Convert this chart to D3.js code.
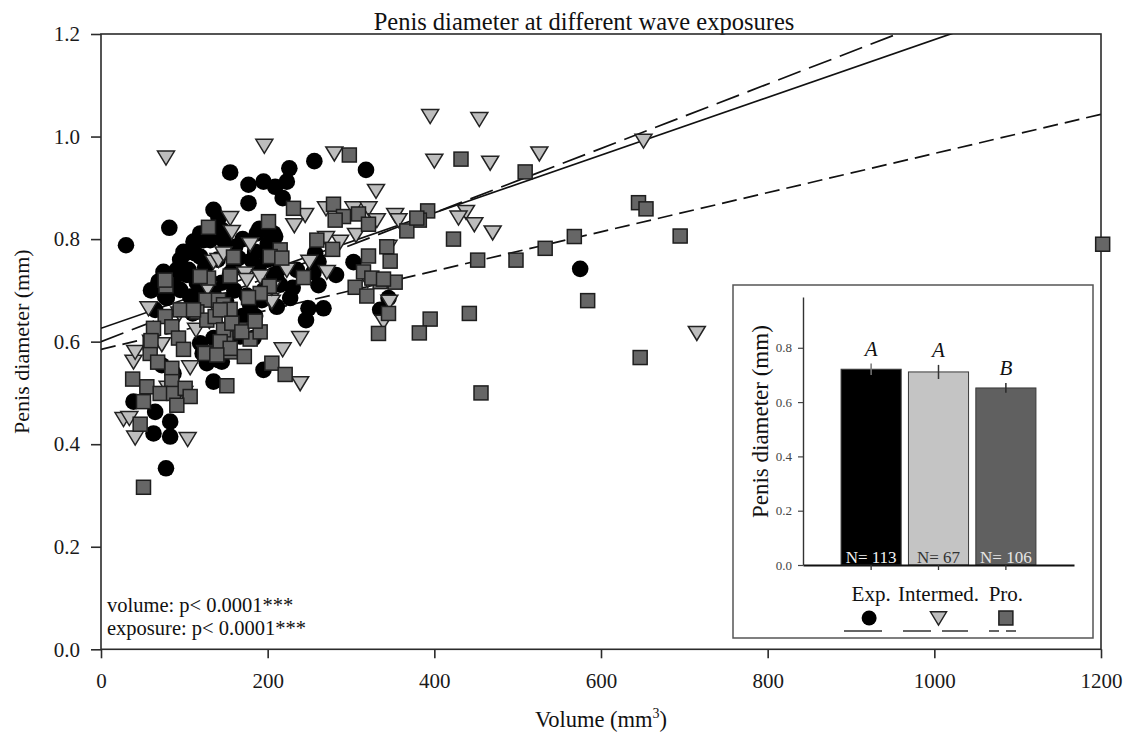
<!DOCTYPE html>
<html>
<head>
<meta charset="utf-8">
<script src="https://cdn.jsdelivr.net/npm/d3@7"></script>
<style>
  body { margin: 0; background: #fff; }
  svg { display: block; }
  text { font-family: "Liberation Serif", "Times New Roman", serif; }
</style>
</head>
<body>
<svg id="chart" width="1133" height="740"></svg>
<script>
// ---- Data: [volume (mm^3), penis diameter (mm)] per wave exposure ----
const expPoints = [
  [30,0.788],[82,0.822],[155,0.930],[256,0.952],[318,0.935],[226,0.938],[177,0.906],[195,0.912],
  [209,0.902],[223,0.912],[177,0.870],[218,0.880],[135,0.857],[141,0.841],[111,0.795],[123,0.798],
  [101,0.772],[119,0.766],[75,0.736],[91,0.740],[103,0.730],[69,0.717],[79,0.685],[161,0.785],
  [181,0.759],[199,0.818],[209,0.805],[155,0.733],[189,0.743],[211,0.720],[261,0.710],[282,0.730],
  [303,0.755],[227,0.685],[249,0.665],[267,0.665],[246,0.642],[211,0.668],[179,0.671],[135,0.694],
  [115,0.688],[135,0.805],[147,0.798],[190,0.820],[165,0.763],[159,0.743],[185,0.775],[215,0.743],
  [207,0.730],[215,0.711],[261,0.756],[193,0.681],[95,0.701],[335,0.662],[345,0.685],[119,0.597],
  [143,0.584],[127,0.558],[187,0.811],[207,0.811],[257,0.772],[167,0.610],[195,0.545],[119,0.811],
  [131,0.798],[145,0.818],[99,0.775],[113,0.772],[97,0.733],[77,0.688],[65,0.662],[119,0.697],
  [107,0.688],[159,0.639],[149,0.623],[122,0.577],[141,0.564],[183,0.607],[135,0.522],[39,0.483],
  [65,0.463],[73,0.554],[83,0.444],[63,0.421],[83,0.415],[78,0.353],[145,0.561],[87,0.538],
  [575,0.742],[135,0.607],[125,0.745],[140,0.760],[150,0.780],[170,0.800],[130,0.720],[160,0.700],
  [175,0.690],[200,0.760],[200,0.790],[255,0.735],[105,0.740],[115,0.715],[145,0.715],[95,0.760],
  [235,0.740],[195,0.700],[60,0.700],[88,0.710],[170,0.650],[185,0.650],[110,0.655],[230,0.705],
  [150,0.680]
];
const intermedPoints = [
  [78,0.959],[196,0.982],[280,0.967],[330,0.894],[155,0.841],[157,0.814],[245,0.847],[232,0.827],
  [179,0.790],[306,0.808],[303,0.860],[321,0.860],[331,0.837],[250,0.756],[271,0.736],[223,0.740],
  [173,0.733],[175,0.720],[191,0.727],[203,0.681],[57,0.665],[94,0.655],[114,0.623],[239,0.607],
  [218,0.585],[239,0.519],[107,0.550],[39,0.561],[41,0.580],[27,0.449],[34,0.451],[41,0.413],
  [104,0.410],[395,1.040],[454,1.034],[400,0.953],[467,0.949],[526,0.967],[651,0.992],[715,0.617],
  [353,0.847],[357,0.837],[438,0.853],[429,0.842],[448,0.829],[470,0.813],[346,0.678],[270,0.860],
  [287,0.795],[270,0.802],[205,0.678],[339,0.639],[73,0.595],[135,0.756],[141,0.759],[128,0.704],
  [147,0.772],[125,0.580],[140,0.660],[80,0.510],[150,0.610],[100,0.500],[60,0.600],[130,0.640],
  [320,0.720],[345,0.785],[205,0.705]
];
const proPoints = [
  [432,0.956],[509,0.931],[645,0.871],[654,0.859],[695,0.806],[568,0.805],[533,0.782],[498,0.759],
  [452,0.759],[423,0.800],[392,0.855],[382,0.837],[367,0.816],[343,0.785],[347,0.757],[353,0.716],
  [335,0.717],[345,0.655],[395,0.644],[382,0.617],[442,0.655],[584,0.680],[647,0.569],[333,0.616],
  [456,0.500],[1202,0.790],[279,0.868],[231,0.860],[201,0.834],[291,0.844],[281,0.837],[309,0.849],
  [321,0.829],[379,0.841],[259,0.798],[278,0.780],[215,0.779],[203,0.766],[321,0.767],[315,0.736],
  [325,0.724],[339,0.722],[305,0.706],[319,0.689],[243,0.725],[202,0.708],[191,0.694],[177,0.686],
  [179,0.605],[172,0.571],[205,0.558],[221,0.536],[298,0.964],[129,0.823],[159,0.765],[155,0.728],
  [129,0.724],[78,0.709],[126,0.681],[141,0.681],[147,0.672],[155,0.663],[115,0.658],[127,0.642],
  [137,0.649],[77,0.649],[85,0.629],[63,0.626],[93,0.607],[59,0.598],[59,0.577],[150,0.607],
  [167,0.623],[125,0.577],[140,0.576],[155,0.580],[151,0.514],[38,0.527],[85,0.548],[85,0.522],
  [55,0.512],[71,0.499],[51,0.483],[87,0.499],[101,0.509],[107,0.493],[91,0.476],[77,0.720],
  [47,0.439],[51,0.316],[119,0.727],[95,0.662],[111,0.662],[143,0.662],[60,0.602],[147,0.623],
  [157,0.636],[169,0.619],[191,0.619],[143,0.600],[155,0.587],[139,0.574],[217,0.763],[68,0.560],
  [99,0.585],[185,0.640]
];

// Regression lines (diameter = intercept + slope * volume)
const fitIntercepts = [0.626, 0.600, 0.585];
const fitSlopes = [0.000563, 0.000628, 0.000382];

// Axis ticks
const xTicks = [0, 200, 400, 600, 800, 1000, 1200];
const yTicks = [0, 0.2, 0.4, 0.6, 0.8, 1.0, 1.2];

// Inset bar chart: mean diameter per exposure
const barCategories = ["Exp.", "Intermed.", "Pro."];
const barMeans = [0.721, 0.711, 0.652];
const barErrors = [0.021, 0.026, 0.018];
const barLetters = ["A", "A", "B"];
const barN = [113, 67, 106];
const insetTicks = [0, 0.2, 0.4, 0.6, 0.8];

// ---- Drawing ----
const svg = d3.select("#chart");
const x = d3.scaleLinear().domain([0, 1200]).range([101, 1101]);
const y = d3.scaleLinear().domain([0, 1.2]).range([649.3, 34]);

const axisColor = "#2b2b2b";

// title
svg.append("text")
  .attr("x", 584).attr("y", 30)
  .attr("text-anchor", "middle")
  .attr("font-size", 24.5)
  .attr("fill", "#111")
  .text("Penis diameter at different wave exposures");

// axes
const gx = svg.append("g").attr("transform", `translate(0,${y(0)})`)
  .call(d3.axisBottom(x).tickValues(xTicks).tickFormat(d3.format("d"))
    .tickSize(9).tickPadding(15).tickSizeOuter(0));
const gy = svg.append("g").attr("transform", `translate(${x(0)},0)`)
  .call(d3.axisLeft(y).tickValues(yTicks).tickFormat(d3.format(".1f"))
    .tickSize(10).tickPadding(11).tickSizeOuter(0));
[gx, gy].forEach(g => {
  g.select(".domain").remove();
  g.selectAll(".tick line").attr("stroke", axisColor).attr("stroke-width", 1.6);
  g.selectAll(".tick text").attr("font-size", 21).attr("fill", "#1a1a1a")
    .attr("font-family", "'Liberation Serif', 'Times New Roman', serif");
});

// frame
svg.append("rect")
  .attr("x", x(0)).attr("y", y(1.2))
  .attr("width", x(1200) - x(0)).attr("height", y(0) - y(1.2))
  .attr("fill", "none").attr("stroke", axisColor).attr("stroke-width", 1.6);

// axis titles
svg.append("text")
  .attr("transform", `translate(29,${(y(0) + y(1.2)) / 2}) rotate(-90)`)
  .attr("text-anchor", "middle").attr("font-size", 22).attr("fill", "#111")
  .text("Penis diameter (mm)");
const xt = svg.append("text")
  .attr("x", 601).attr("y", 727)
  .attr("text-anchor", "middle").attr("font-size", 22.5).attr("fill", "#111");
xt.append("tspan").text("Volume (mm");
xt.append("tspan").attr("dy", -9).attr("font-size", 14).text("3");
xt.append("tspan").attr("dy", 9).text(")");

// regression lines (clipped to plot area)
svg.append("clipPath").attr("id", "plotClip")
  .append("rect").attr("x", x(0)).attr("y", y(1.2))
  .attr("width", x(1200) - x(0)).attr("height", y(0) - y(1.2));
const lineDash = [null, "24,9", "15,7"];
const lineGen = d3.line().x(d => x(d[0])).y(d => y(d[1]));
const linesG = svg.append("g").attr("clip-path", "url(#plotClip)");
fitIntercepts.forEach((b, i) => {
  const pts = [0, 1200].map(v => [v, b + fitSlopes[i] * v]);
  linesG.append("path").attr("d", lineGen(pts))
    .attr("fill", "none").attr("stroke", "#111").attr("stroke-width", 1.7)
    .attr("stroke-dasharray", lineDash[i]);
});

// marker shapes
const triPath = "M-8.5,-6.5L8.5,-6.5L0,7.5Z";
const triFill = "#bdbdbd", sqFill = "#666666";

const pts = svg.append("g");
pts.selectAll("circle.exp").data(expPoints).join("circle")
  .attr("cx", d => x(d[0])).attr("cy", d => y(d[1])).attr("r", 8.3)
  .attr("fill", "#000");
pts.selectAll("path.int").data(intermedPoints).join("path")
  .attr("d", triPath)
  .attr("transform", d => `translate(${x(d[0])},${y(d[1])})`)
  .attr("fill", triFill).attr("stroke", "#222").attr("stroke-width", 1.5)
  .attr("stroke-linejoin", "miter");
pts.selectAll("rect.pro").data(proPoints).join("rect")
  .attr("x", d => x(d[0]) - 7).attr("y", d => y(d[1]) - 7)
  .attr("width", 14).attr("height", 14)
  .attr("fill", sqFill).attr("stroke", "#1e1e1e").attr("stroke-width", 1.5);

// statistics note
svg.append("text").attr("x", 107).attr("y", 612).attr("font-size", 20.5).attr("fill", "#111")
  .text("volume: p< 0.0001***");
svg.append("text").attr("x", 107).attr("y", 635).attr("font-size", 20.5).attr("fill", "#111")
  .text("exposure: p< 0.0001***");

// ---- Inset bar chart ----
svg.append("rect").attr("x", 733).attr("y", 285).attr("width", 360).attr("height", 353)
  .attr("fill", "#fff").attr("stroke", "#555").attr("stroke-width", 1.5);

const bx = d3.scaleBand().domain(barCategories).range([803, 1074])
  .paddingInner(0.108).paddingOuter(0.565);
const by = d3.scaleLinear().domain([0, 0.987]).range([565, 297]);
const barFill = ["#000000", "#c4c4c4", "#606060"];
const errColor = ["#777", "#333", "#2a2a2a"];
const nColor = ["#f2f2f2", "#333", "#e6e6e6"];

const inset = svg.append("g");
inset.selectAll("rect.bar").data(barCategories).join("rect")
  .attr("x", d => bx(d)).attr("width", bx.bandwidth())
  .attr("y", (d, i) => by(barMeans[i])).attr("height", (d, i) => by(0) - by(barMeans[i]))
  .attr("fill", (d, i) => barFill[i]).attr("stroke", "#3a3a3a").attr("stroke-width", 1);

inset.selectAll("line.err").data(barCategories).join("line")
  .attr("x1", d => bx(d) + bx.bandwidth() / 2).attr("x2", d => bx(d) + bx.bandwidth() / 2)
  .attr("y1", (d, i) => by(barMeans[i] - barErrors[i]))
  .attr("y2", (d, i) => by(barMeans[i] + barErrors[i]))
  .attr("stroke", (d, i) => errColor[i]).attr("stroke-width", 1.5);

inset.selectAll("text.letter").data(barCategories).join("text")
  .attr("x", d => bx(d) + bx.bandwidth() / 2)
  .attr("y", (d, i) => by(barMeans[i] + barErrors[i]) - 8)
  .attr("text-anchor", "middle").attr("font-size", 21).attr("font-style", "italic")
  .attr("fill", "#111")
  .text((d, i) => barLetters[i]);

inset.selectAll("text.n").data(barCategories).join("text")
  .attr("x", d => bx(d) + bx.bandwidth() / 2).attr("y", 563)
  .attr("text-anchor", "middle").attr("font-size", 17)
  .attr("fill", (d, i) => nColor[i])
  .text((d, i) => "N= " + barN[i]);

const ibx = inset.append("g").attr("transform", `translate(0,${by(0)})`)
  .call(d3.axisBottom(bx).tickSize(5).tickPadding(16).tickSizeOuter(0));
ibx.select(".domain").attr("stroke", "#111").attr("stroke-width", 2);
ibx.selectAll(".tick line").attr("stroke", "#333").attr("stroke-width", 1.3);
ibx.selectAll(".tick text").attr("font-size", 21).attr("fill", "#111")
  .attr("font-family", "'Liberation Serif', 'Times New Roman', serif");

const iby = inset.append("g").attr("transform", `translate(${bx.range()[0]},0)`)
  .call(d3.axisLeft(by).tickValues(insetTicks).tickFormat(d3.format(".1f"))
    .tickSize(5).tickPadding(6).tickSizeOuter(0));
iby.select(".domain").attr("stroke", "#333").attr("stroke-width", 1.4);
iby.selectAll(".tick line").attr("stroke", "#444").attr("stroke-width", 1.2);
iby.selectAll(".tick text").attr("font-size", 13).attr("fill", "#444")
  .attr("font-family", "'Liberation Serif', 'Times New Roman', serif");

svg.append("text")
  .attr("transform", `translate(768,${(by(0.166) + by(0.89)) / 2}) rotate(-90)`)
  .attr("text-anchor", "middle").attr("font-size", 23).attr("fill", "#111")
  .text("Penis diameter (mm)");

// legend symbols and line styles under each category
const legendY = 618, legendLineY = 631;
const cx = d => bx(d) + bx.bandwidth() / 2;
inset.append("circle").attr("cx", cx("Exp.") - 2).attr("cy", legendY).attr("r", 7.5).attr("fill", "#000");
inset.append("path").attr("d", triPath)
  .attr("transform", `translate(${cx("Intermed.")},${legendY}) scale(0.95)`)
  .attr("fill", triFill).attr("stroke", "#222").attr("stroke-width", 1.5);
inset.append("rect").attr("x", cx("Pro.") - 7).attr("y", legendY - 7)
  .attr("width", 14).attr("height", 14)
  .attr("fill", sqFill).attr("stroke", "#1e1e1e").attr("stroke-width", 1.5);

const legendSpans = [[844, 882], [903, 968], [989, 1023]];
const legendDash = [null, "28,11", "10,7"];
legendSpans.forEach((s, i) => {
  inset.append("line").attr("x1", s[0]).attr("x2", s[1])
    .attr("y1", legendLineY).attr("y2", legendLineY)
    .attr("stroke", "#333").attr("stroke-width", 1.6)
    .attr("stroke-dasharray", legendDash[i]);
});
</script>
</body>
</html>
